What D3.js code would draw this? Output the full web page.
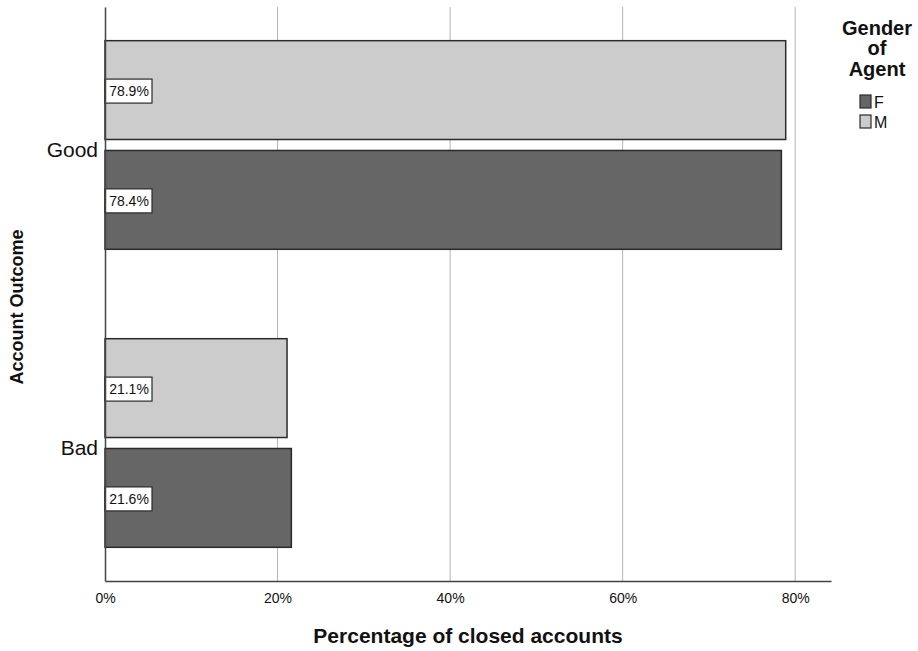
<!DOCTYPE html>
<html lang="en">
<head>
  <meta charset="UTF-8">
  <title>Account Outcome by Gender of Agent</title>
  <style>
  * {
    margin: 0;padding: 0;
  }
  body {
    background: #fff;
  }
  svg text {
    font-family: Arial, "Liberation Sans", sans-serif;
  }
  </style>
  <script src="https://cdn.jsdelivr.net/npm/d3@7"></script>
</head>
<body>
<svg width="918" height="651" id="chart"></svg>
<script>
// data
const outcomes = ["Good", "Bad"];
const genders = ["M", "F"];          // drawing order inside a group (top to bottom)
const legendOrder = ["F", "M"];
const valuesF = [78.4, 21.6];
const valuesM = [78.9, 21.1];
const xTicks = [0, 20, 40, 60, 80];

const colors = { F: "#666666", M: "#cccccc" };

const rows = [];
outcomes.forEach((o, i) => {
  rows.push({ outcome: o, gender: "M", value: valuesM[i] });
  rows.push({ outcome: o, gender: "F", value: valuesF[i] });
});

const svg = d3.select("#chart");

const plot = { left: 105, right: 831, top: 7, bottom: 581 };

const x = d3.scaleLinear()
  .domain([0, 84.15])
  .range([plot.left, plot.right]);

const y = d3.scaleBand()
  .domain(outcomes)
  .range([plot.top, plot.bottom])
  .paddingInner(0.3)
  .paddingOuter(0.113);

const yInner = d3.scaleBand()
  .domain(genders)
  .range([0, y.bandwidth()])
  .paddingInner(0.1);

// grid lines
svg.append("g").selectAll("line").data(xTicks.filter(d => d > 0)).enter()
  .append("line")
  .attr("x1", d => x(d)).attr("x2", d => x(d))
  .attr("y1", plot.top).attr("y2", plot.bottom)
  .attr("stroke", "#b4b4b4")
  .attr("stroke-width", 1);

// bars
const bars = svg.append("g").selectAll("g").data(rows).enter()
  .append("g")
  .attr("transform", d => `translate(0,${y(d.outcome) + yInner(d.gender)})`);

bars.append("rect")
  .attr("x", x(0))
  .attr("y", 0)
  .attr("width", d => x(d.value) - x(0))
  .attr("height", yInner.bandwidth())
  .attr("fill", d => colors[d.gender])
  .attr("stroke", "#2a2a2a")
  .attr("stroke-width", 1.5);

// value labels in white boxes
const lab = bars.append("g")
  .attr("transform", d => `translate(${x(0)},${yInner.bandwidth() / 2 + 1})`);

lab.append("rect")
  .attr("x", 0)
  .attr("y", -12)
  .attr("width", 47)
  .attr("height", 24)
  .attr("fill", "#fff")
  .attr("stroke", "#2a2a2a")
  .attr("stroke-width", 1.2);

lab.append("text")
  .attr("x", 24)
  .attr("y", 5)
  .attr("text-anchor", "middle")
  .attr("font-size", 14)
  .attr("fill", "#111")
  .text(d => d.value.toFixed(1) + "%");

// axes
const xAxis = svg.append("g")
  .attr("transform", `translate(0,${plot.bottom})`)
  .call(d3.axisBottom(x).tickValues(xTicks).tickSize(0).tickPadding(12).tickFormat(d => d + "%"));
xAxis.select(".domain").attr("stroke", "#444").attr("stroke-width", 1.5);
xAxis.selectAll("text").attr("font-size", 14).attr("fill", "#111")
  .style("font-family", "Arial, 'Liberation Sans', sans-serif");

const yAxis = svg.append("g")
  .attr("transform", `translate(${plot.left},0)`)
  .call(d3.axisLeft(y).tickSize(0).tickPadding(7));
yAxis.select(".domain").attr("stroke", "#444").attr("stroke-width", 1.5);
yAxis.selectAll("text").attr("font-size", 21).attr("fill", "#111")
  .attr("dy", "0.57em")
  .style("font-family", "Arial, 'Liberation Sans', sans-serif");

// axis titles
svg.append("text")
  .attr("x", (plot.left + plot.right) / 2)
  .attr("y", 643)
  .attr("text-anchor", "middle")
  .attr("font-size", 21)
  .attr("font-weight", "bold")
  .attr("fill", "#111")
  .text("Percentage of closed accounts");

svg.append("text")
  .attr("transform", "translate(23,307) rotate(-90)")
  .attr("text-anchor", "middle")
  .attr("font-size", 18)
  .attr("font-weight", "bold")
  .attr("fill", "#111")
  .text("Account Outcome");

// legend
const legend = svg.append("g").attr("transform", "translate(877,0)");
legend.selectAll("text.title").data(["Gender", "of", "Agent"]).enter()
  .append("text")
  .attr("class", "title")
  .attr("x", 0)
  .attr("y", (d, i) => 34.5 + i * 20.8)
  .attr("text-anchor", "middle")
  .attr("font-size", 20)
  .attr("font-weight", "bold")
  .attr("fill", "#111")
  .text(d => d);

const item = legend.selectAll("g.item").data(legendOrder).enter()
  .append("g")
  .attr("class", "item")
  .attr("transform", (d, i) => `translate(-17,${95 + i * 20})`);

item.append("rect")
  .attr("width", 11)
  .attr("height", 13)
  .attr("fill", d => colors[d])
  .attr("stroke", "#2a2a2a")
  .attr("stroke-width", 1.2);

item.append("text")
  .attr("x", 14)
  .attr("y", 12.5)
  .attr("font-size", 16)
  .attr("fill", "#111")
  .text(d => d);
</script>
</body>
</html>
